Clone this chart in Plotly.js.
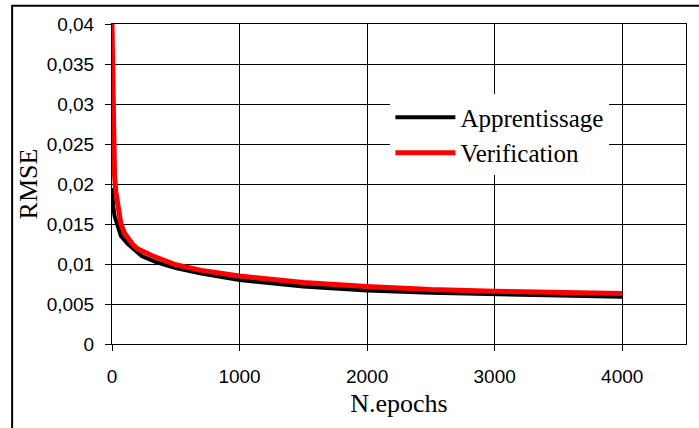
<!DOCTYPE html>
<html>
<head>
<meta charset="utf-8">
<script src="https://cdn.plot.ly/plotly-3.0.1.min.js"></script>
<style>html,body{margin:0;padding:0;background:#fff;}#chart{width:699px;height:428px;}</style>
</head>
<body>
<div id="chart"></div>
<script>
// Data
const seriesNames = ["Apprentissage", "Verification"];
const epochsTrain = [0, 5, 10, 20, 40, 70, 125, 233, 350, 500, 700, 1000, 1500, 2000, 2500, 3000, 3500, 4000];
const rmseTrain   = [0.0195, 0.018, 0.0172, 0.016, 0.015, 0.0135, 0.0125, 0.011, 0.0102, 0.0095, 0.0088, 0.0080, 0.0072, 0.0067, 0.0064, 0.0062, 0.0060, 0.0059];
const epochsVerif = [0, 5, 10, 15, 20, 30, 50, 70, 100, 160, 200, 320, 500, 700, 1000, 1500, 2000, 2500, 3000, 3500, 4000];
const rmseVerif   = [0.04, 0.032, 0.027, 0.024, 0.021, 0.019, 0.0165, 0.015, 0.0138, 0.0125, 0.0119, 0.011, 0.0099, 0.0092, 0.0085, 0.0077, 0.0072, 0.0068, 0.0066, 0.0064, 0.0063];
const yTickVals = [0, 0.005, 0.01, 0.015, 0.02, 0.025, 0.03, 0.035, 0.04];
const yTickText = ["0", "0,005", "0,01", "0,015", "0,02", "0,025", "0,03", "0,035", "0,04"];
const xTickVals = [0, 1000, 2000, 3000, 4000];
const xTickText = ["0", "1000", "2000", "3000", "4000"];

const serif = "Liberation Serif, Times New Roman, serif";
const sans = "Liberation Sans, Arial, sans-serif";

const traces = [
  {x: epochsTrain, y: rmseTrain, name: seriesNames[0], mode: "lines", legendgroup: "a",
   line: {color: "#000000", width: 4}},
  {x: epochsVerif, y: rmseVerif, name: seriesNames[1], mode: "lines", legendgroup: "b",
   line: {color: "#ff0000", width: 5}}
];

const layout = {
  width: 699, height: 428,
  margin: {l: 112, r: 13, t: 24, b: 84},
  paper_bgcolor: "#ffffff", plot_bgcolor: "#ffffff",
  showlegend: true,
  legend: {x: 0.485, y: 0.78, xanchor: "left", yanchor: "top", bgcolor: "#ffffff",
    borderwidth: 0, font: {family: serif, size: 25, color: "#000"}, itemwidth: 60,
    tracegroupgap: 0},
  xaxis: {range: [0, 4500], tickvals: xTickVals, ticktext: xTickText,
    showgrid: true, gridcolor: "#000", gridwidth: 1, zeroline: false,
    showline: true, linecolor: "#000", linewidth: 1, mirror: true,
    ticks: "outside", ticklen: 6, tickcolor: "#000", ticklabelstandoff: 9,
    tickfont: {family: sans, size: 19, color: "#000"},
    title: {text: "N.epochs", font: {family: serif, size: 26, color: "#000"}, standoff: 8}},
  yaxis: {range: [0, 0.04], tickvals: yTickVals, ticktext: yTickText,
    showgrid: true, gridcolor: "#000", gridwidth: 1, zeroline: false,
    showline: true, linecolor: "#000", linewidth: 1, mirror: true,
    ticks: "outside", ticklen: 6, tickcolor: "#000", ticklabelstandoff: 7,
    tickfont: {family: sans, size: 19, color: "#000"},
    title: {text: "RMSE", font: {family: serif, size: 26, color: "#000"}, standoff: 1}},
  shapes: [
    {type: "rect", xref: "paper", yref: "paper", x0: -0.174, x1: 1.05, y0: -0.35, y1: 1.057,
     line: {color: "#000", width: 2}, fillcolor: "rgba(0,0,0,0)", layer: "below"}
  ]
};

Plotly.newPlot("chart", traces, layout, {displayModeBar: false, staticPlot: true});
</script>
</body>
</html>
